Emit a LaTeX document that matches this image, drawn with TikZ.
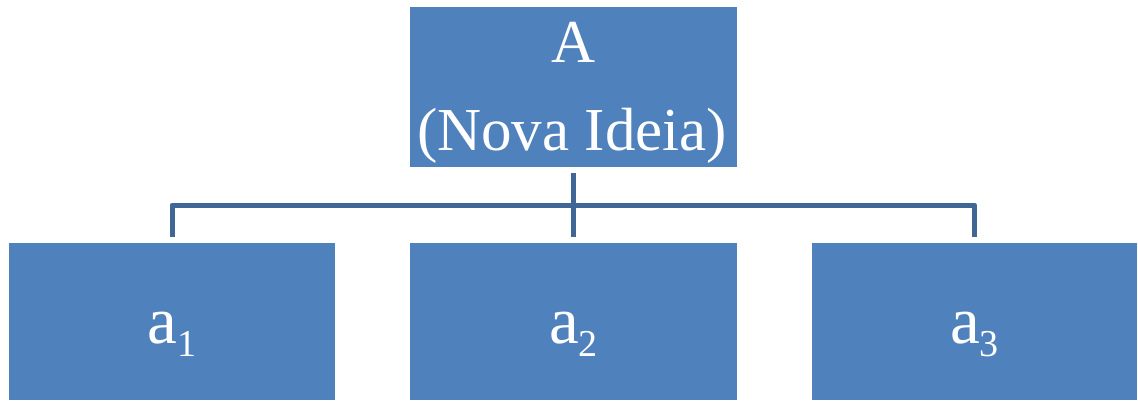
\documentclass[tikz,border=0pt]{standalone}
\usepackage{fontspec}
\setmainfont{Liberation Serif}
\definecolor{boxblue}{RGB}{79,129,189}
\definecolor{linkblue}{RGB}{64,102,150}
\newcommand{\subidx}[1]{\raisebox{-13pt}{\fontsize{38}{40}\selectfont #1}}
\begin{document}
\begin{tikzpicture}[x=1pt,y=-1pt,
  box/.style={fill=boxblue, draw=none, inner sep=0pt, rectangle},
  toptext/.style={text=white, anchor=base, inner sep=0pt, font=\fontsize{61}{70}\selectfont},
  bottext/.style={text=white, anchor=base, inner sep=0pt, font=\fontsize{67}{70}\selectfont},
  link/.style={draw=linkblue, line width=5pt, line join=round}]
\useasboundingbox (0,0) rectangle (1138,400);
\node[box, minimum width=327pt, minimum height=160pt] (top) at (573.5,87) {};
\node[box, minimum width=326pt, minimum height=157pt] (b1) at (172,321.5) {};
\node[box, minimum width=327pt, minimum height=157pt] (b2) at (573.5,321.5) {};
\node[box, minimum width=325pt, minimum height=157pt] (b3) at (974.5,321.5) {};
\node[toptext] (tA) at (573.5,62) {A};
\node[toptext] (tN) at (572,150) {(Nova Ideia)};
\node[bottext] (t1) at (172,343) {a\subidx{1}};
\node[bottext] (t2) at (573.5,343) {a\subidx{2}};
\node[bottext] (t3) at (974.5,343) {a\subidx{3}};
\coordinate (bus) at (573,205);
\draw[link] ([yshift=-6pt]top.south) -- ([yshift=6pt]b2.north);
\draw[link] ([yshift=6pt]b1.north) |- (bus) -| ([yshift=6pt]b3.north);
\end{tikzpicture}
\end{document}
